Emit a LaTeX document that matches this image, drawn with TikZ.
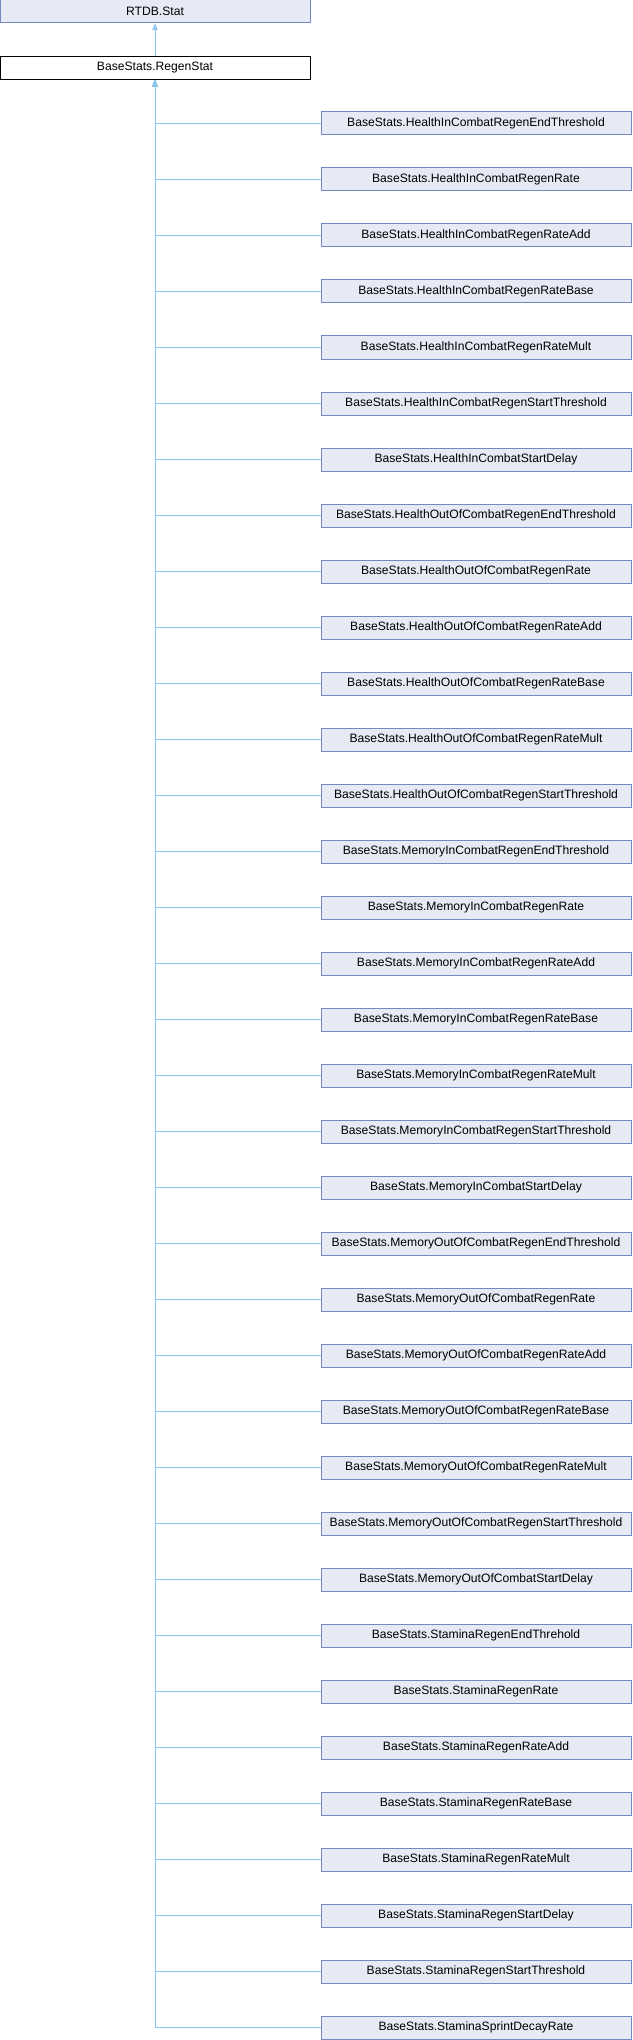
\documentclass[tikz,border=0pt]{standalone}
\usepackage{fontspec}
\setmainfont{Liberation Sans}
\usetikzlibrary{arrows.meta, positioning}
\definecolor{boxfill}{HTML}{E6EAF4}
\definecolor{boxline}{HTML}{7488C4}
\definecolor{edgeblue}{HTML}{8CC6EC}

\begin{document}
\begin{tikzpicture}[x=0.75pt, y=-0.75pt,
    classbox/.style={draw=boxline, fill=boxfill, line width=0.75pt, minimum width=232.5pt,
        minimum height=17.25pt, inner sep=0pt, font=\fontsize{9.1}{11}\selectfont},
    current/.style={classbox, draw=black, fill=white},
    herencia/.style={draw=edgeblue, line width=0.75pt, -{Triangle[length=5pt, width=4pt]}}]
                                \useasboundingbox (0,0) rectangle (632,2040);
                                % clases
                                \node [classbox] (stat) at (155,11.5) {RTDB.Stat};
                                \node [current] (regen) at (155,68) {BaseStats.RegenStat};
                                \foreach \nm [count=\i] in {HealthInCombatRegenEndThreshold, HealthInCombatRegenRate,
                                    HealthInCombatRegenRateAdd, HealthInCombatRegenRateBase, HealthInCombatRegenRateMult,
                                    HealthInCombatRegenStartThreshold, HealthInCombatStartDelay,
                                    HealthOutOfCombatRegenEndThreshold, HealthOutOfCombatRegenRate,
                                    HealthOutOfCombatRegenRateAdd, HealthOutOfCombatRegenRateBase,
                                    HealthOutOfCombatRegenRateMult, HealthOutOfCombatRegenStartThreshold,
                                    MemoryInCombatRegenEndThreshold, MemoryInCombatRegenRate,
                                    MemoryInCombatRegenRateAdd, MemoryInCombatRegenRateBase, MemoryInCombatRegenRateMult,
                                    MemoryInCombatRegenStartThreshold, MemoryInCombatStartDelay,
                                    MemoryOutOfCombatRegenEndThreshold, MemoryOutOfCombatRegenRate,
                                    MemoryOutOfCombatRegenRateAdd, MemoryOutOfCombatRegenRateBase,
                                    MemoryOutOfCombatRegenRateMult, MemoryOutOfCombatRegenStartThreshold,
                                    MemoryOutOfCombatStartDelay, StaminaRegenEndThrehold, StaminaRegenRate,
                                    StaminaRegenRateAdd, StaminaRegenRateBase, StaminaRegenRateMult,
                                    StaminaRegenStartDelay, StaminaRegenStartThreshold, StaminaSprintDecayRate}
                                    \node [classbox] (c\i) at (476,{67.5+56*\i}) {BaseStats.\nm};

                                % herencia
                                \draw [herencia] (regen) -- (stat);
                                \foreach \i in {1,...,35}
                                    \draw [herencia] (c\i.west) -| (regen.south);
                            \end{tikzpicture}
\end{document}
